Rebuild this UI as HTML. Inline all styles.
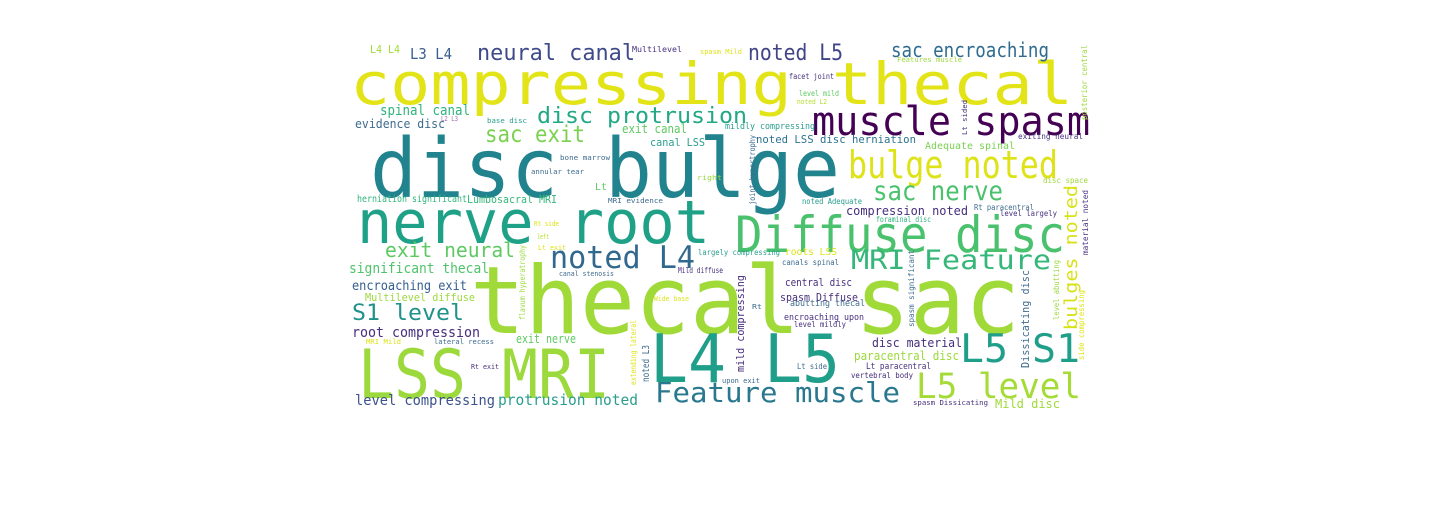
<!DOCTYPE html>
<html><head><meta charset="utf-8"><style>
html,body{margin:0;padding:0;background:#fff;width:1440px;height:509px;overflow:hidden}
svg{position:absolute;left:0;top:0}
text{font-family:"DejaVu Sans Mono","Liberation Mono",monospace}
</style></head><body>
<svg width="1440" height="509" xmlns="http://www.w3.org/2000/svg">
<g id="words"></g>
</svg>
<script>
// [text, x, baseline, width, fontSize, color, rotated]
const words = [
["compressing thecal",350,104,723,58,"#e2e418",0],
["disc bulge",370,197,470,82,"#21838d",0],
["nerve root",357,243,353,60,"#1fa187",0],
["thecal sac",470,333,550,94,"#a0da39",0],
["LSS MRI",358,398,252,68,"#9bd93c",0],
["L4 L5",650,382,190,67,"#1f9e89",0],
["Diffuse disc",735,252,330,50,"#4ac16d",0],
["muscle spasm",812,135,278,40,"#440154",0],
["bulge noted",848,178,210,38,"#dde318",0],
["sac nerve",873,200,130,27,"#4ac16d",0],
["MRI Feature",851,269,200,27,"#35b779",0],
["noted L4",550,268,145,31,"#31688e",0],
["L5 S1",960,362,120,39,"#1f9e89",0],
["L5 level",916,398,165,35,"#a5db36",0],
["Feature muscle",655,402,245,28,"#2a788e",0],
["disc protrusion",537,123,210,22,"#22a884",0],
["neural canal",477,60,158,22,"#3e4a89",0],
["sac exit",485,142,100,23,"#7ad151",0],
["sac encroaching",891,57,158,20,"#2f6c8e",0],
["noted L5",748,60,95,22,"#414487",0],
["L3 L4",410,59,42,15,"#365d8d",0],
["L4 L4",370,53,30,11,"#a0da39",0],
["exit neural",385,257,130,20,"#5ec962",0],
["significant thecal",349,273,140,14,"#4ec36b",0],
["encroaching exit",352,290,115,13,"#355f8d",0],
["Multilevel diffuse",365,301,110,11,"#9bd93c",0],
["S1 level",352,320,112,22,"#21918c",0],
["root compression",352,337,128,14,"#472f7d",0],
["level compressing",355,405,140,14,"#3b528b",0],
["protrusion noted",498,405,140,15,"#2a9d8f",0],
["exit nerve",516,343,60,12,"#5ec962",0],
["spinal canal",380,115,90,14,"#2fb47c",0],
["evidence disc",355,128,90,12,"#3e6b8e",0],
["exit canal",622,133,65,12,"#5ec962",0],
["canal LSS",650,146,55,11,"#2a9d8f",0],
["Multilevel",632,52,50,8,"#46327e",0],
["spasm Mild",700,54,42,7,"#dde318",0],
["Features muscle",897,62,65,7,"#9bd93c",0],
["facet joint",789,79,45,8,"#46327e",0],
["level mild",799,96,40,8,"#5ec962",0],
["noted L2",797,104,30,7,"#b5de2b",0],
["mildly compressing",725,129,90,9,"#2a9d8f",0],
["noted LSS disc herniation",756,143,160,11,"#2c728e",0],
["Adequate spinal",925,149,90,10,"#7ad151",0],
["exiting neural",1018,139,65,8,"#46327e",0],
["disc space",1043,183,45,8,"#a0da39",0],
["noted Adequate",802,204,60,8,"#2a9d8f",0],
["Rt paracentral",974,210,60,8,"#3e6b8e",0],
["level largely",1000,216,57,8,"#46327e",0],
["compression noted",846,215,122,12,"#472f7d",0],
["foraminal disc",876,222,55,8,"#2fb47c",0],
["L2 L3",441,121,17,7,"#a46fb5",0],
["base disc",487,123,40,7,"#2a9d8f",0],
["bone marrow",560,160,50,7,"#3e6b8e",0],
["annular tear",531,174,53,7,"#3e6b8e",0],
["right",697,180,25,7,"#9bd93c",0],
["Lt",595,190,12,10,"#5ec962",0],
["herniation significant",357,202,110,10,"#2fb47c",0],
["Lumbosacral MRI",467,203,90,11,"#35b779",0],
["MRI evidence",608,203,55,7,"#3e6b8e",0],
["Rt side",534,226,25,7,"#dde318",0],
["left",537,239,12,7,"#b5de2b",0],
["Lt exit",538,250,28,7,"#dde318",0],
["canal stenosis",559,276,55,7,"#3e6b8e",0],
["largely compressing",698,255,82,8,"#2a9d8f",0],
["Mild diffuse",678,273,45,8,"#472f7d",0],
["Wide base",654,301,35,7,"#dde318",0],
["MRI Mild",366,344,35,7,"#dde318",0],
["lateral recess",434,344,60,7,"#3e6b8e",0],
["Rt exit",471,369,28,7,"#472f7d",0],
["roots LSS",785,255,52,10,"#dde318",0],
["canals spinal",782,265,57,8,"#3e6b8e",0],
["central disc",785,286,67,11,"#472f7d",0],
["spasm Diffuse",780,301,78,11,"#472f7d",0],
["Rt",752,309,10,7,"#3e6b8e",0],
["abutting thecal",790,306,75,9,"#3e6b8e",0],
["encroaching upon",784,320,80,9,"#472f7d",0],
["level mildly",794,327,52,8,"#472f7d",0],
["disc material",872,347,90,12,"#472f7d",0],
["paracentral disc",854,360,105,12,"#9bd93c",0],
["Lt side",797,369,30,8,"#3e6b8e",0],
["Lt paracentral",866,369,65,9,"#472f7d",0],
["vertebral body",851,378,62,8,"#472f7d",0],
["upon exit",722,383,38,7,"#3e6b8e",0],
["spasm Dissicating",913,405,75,7,"#472f7d",0],
["Mild disc",995,408,65,12,"#a0da39",0],
["bulges noted",1077,330,145,18,"#d8e219",1],
["Lt sided",967,135,35,7,"#46327e",1],
["posterior central",1087,120,75,8,"#9bd93c",1],
["joint hypertrophy",755,205,70,8,"#3e6b8e",1],
["material noted",1088,255,65,8,"#46327e",1],
["flavum hyperatrophy",525,320,75,8,"#9bd93c",1],
["extending lateral",636,385,65,8,"#dde318",1],
["noted L3",649,382,37,10,"#3e6b8e",1],
["mild compressing",744,372,97,11,"#472f7d",1],
["spasm significant",914,327,77,8,"#3e6b8e",1],
["Dissicating disc",1029,368,98,11,"#3e6b8e",1],
["level abutting",1059,320,60,8,"#9bd93c",1],
["side compressing",1084,360,70,8,"#dde318",1]
];
const g = document.getElementById('words');
const NS = "http://www.w3.org/2000/svg";
for (const w of words) {
  const t = document.createElementNS(NS, 'text');
  
  
  t.setAttribute('font-size', w[4]);
  t.setAttribute('fill', w[5]);
  t.setAttribute('textLength', w[3]);
  t.setAttribute('lengthAdjust', 'spacingAndGlyphs');
  if (w[6]) {
    t.setAttribute('transform', 'translate(' + w[1] + ',' + w[2] + ') rotate(-90)');
  } else {
    t.setAttribute('x', w[1]);
    t.setAttribute('y', w[2]);
  }
  t.textContent = w[0];
  g.appendChild(t);
}
</script>
</body></html>
